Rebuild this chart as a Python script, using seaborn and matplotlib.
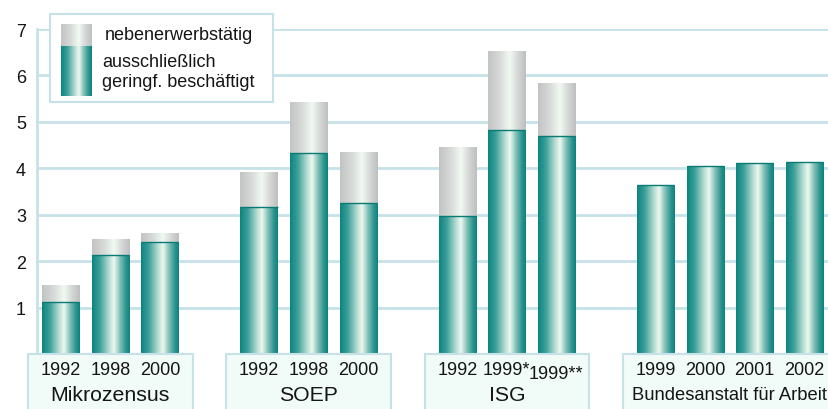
import numpy as np
import pandas as pd
import matplotlib
matplotlib.use("Agg")
import matplotlib.pyplot as plt
from matplotlib.colors import LinearSegmentedColormap
from matplotlib.patches import Rectangle
from matplotlib.transforms import blended_transform_factory
import seaborn as sns

# ---------------- data ----------------
groups = ["Mikrozensus", "SOEP", "ISG", "Bundesanstalt für Arbeit"]
years = [["1992", "1998", "2000"],
         ["1992", "1998", "2000"],
         ["1992", "1999*", "1999**"],
         ["1999", "2000", "2001", "2002"]]
ausschl = [[1.13, 2.13, 2.41],
           [3.17, 4.33, 3.25],
           [2.97, 4.83, 4.70],
           [3.65, 4.05, 4.11, 4.14]]
gesamt = [[1.48, 2.48, 2.61],
          [3.92, 5.43, 4.35],
          [4.46, 6.53, 5.84],
          [3.65, 4.05, 4.11, 4.14]]
legend_labels = ["nebenerwerbstätig", "ausschließlich\ngeringf. beschäftigt"]
yticks = [1, 2, 3, 4, 5, 6, 7]

# ---------------- build table ----------------
rows = []
order = []
for gi, g in enumerate(groups):
    for yi, y in enumerate(years[gi]):
        slot = f"{g}|{y}"
        order.append(slot)
        rows.append({"slot": slot, "main": ausschl[gi][yi], "total": gesamt[gi][yi]})
    if gi < len(groups) - 1:
        order.append(f"_gap{gi}")
df = pd.DataFrame(rows)

sns.set_style("white")
plt.rcParams["font.family"] = ["Liberation Sans", "DejaVu Sans"]

W, H = 829, 410
fig = plt.figure(figsize=(W / 100, H / 100), dpi=100)
ax_left, ax_right, ax_top, ax_bot = 37, 829, 30, 355
ax = fig.add_axes([ax_left / W, 1 - ax_bot / H, (ax_right - ax_left) / W, (ax_bot - ax_top) / H])

grid_col = "#c6e2e8"
txt_col = "#151515"
teal_cmap = LinearSegmentedColormap.from_list(
    "teal", [(0.0, "#0b8580"), (0.2, "#3b9e98"), (0.45, "#b5ddd3"), (0.58, "#eef8f0"),
             (0.75, "#7abdb4"), (0.9, "#2a948e"), (1.0, "#0c827d")])
grey_cmap = LinearSegmentedColormap.from_list(
    "grey", [(0.0, "#c2c4c3"), (0.3, "#d6d9d7"), (0.58, "#f1f9f2"), (0.8, "#d4d6d5"), (1.0, "#bdbfbe")])

sns.barplot(data=df, x="slot", y="total", order=order, color="#cccccc", width=0.75,
            ax=ax, saturation=1, zorder=3)
n_total = len(ax.patches)
sns.barplot(data=df, x="slot", y="main", order=order, color="#0b8580", width=0.75,
            ax=ax, saturation=1, zorder=4)
patches = list(ax.patches)

xlim = (-0.48, len(order) - 0.5)
ax.set_xlim(*xlim)
ax.set_ylim(0, 7)

grad = np.linspace(0, 1, 256).reshape(1, -1)
for i, p in enumerate(patches):
    x0, y0 = p.get_x(), p.get_y()
    w, h = p.get_width(), p.get_height()
    if h <= 0:
        continue
    cmap = grey_cmap if i < n_total else teal_cmap
    im = ax.imshow(grad, extent=[x0, x0 + w, y0, y0 + h], aspect="auto", cmap=cmap,
                   zorder=p.get_zorder(), interpolation="bilinear")
    im.set_clip_path(p)
    p.set_facecolor("none")
    p.set_edgecolor("none")
    if i >= n_total:
        ax.plot([x0, x0 + w], [y0 + h, y0 + h], color="#0a7a75", lw=1.0, zorder=5,
                solid_capstyle="butt")

ax.set_xlim(*xlim)
ax.set_ylim(0, 7)

# grid & axes
ax.set_yticks(yticks)
ax.set_yticklabels([str(t) for t in yticks], fontsize=13, color=txt_col)
ax.tick_params(axis="y", length=0, pad=8)
ax.yaxis.grid(True, color=grid_col, lw=2)
ax.set_axisbelow(True)
ax.set_xticks([])
ax.set_xlabel("")
ax.set_ylabel("")
for s in ["top", "right", "bottom"]:
    ax.spines[s].set_visible(False)
ax.spines["left"].set_color(grid_col)
ax.spines["left"].set_linewidth(2)

# category boxes below the axis
trans = blended_transform_factory(ax.transData, fig.transFigure)
idx = 0
box_top = 1 - ax_bot / H
for gi, g in enumerate(groups):
    n = len(years[gi])
    start, end = idx, idx + n - 1
    right = end + 0.66 if gi < len(groups) - 1 else end + 1.2
    rect = Rectangle((start - 0.66, -0.01), right - (start - 0.66), box_top + 0.01,
                     transform=trans, facecolor="#f1fbf7", edgecolor=grid_col, lw=1.5,
                     clip_on=False, zorder=1)
    fig.add_artist(rect)
    for k, y in enumerate(years[gi]):
        ylab = 1 - 371 / H if "**" not in y else 1 - 375 / H
        t = fig.text(0, ylab, y, transform=trans, fontsize=13, ha="center", va="center",
                     color=txt_col)
        t.set_x(start + k)
    gfs = 13.2 if len(g) > 15 else 15.3
    t = fig.text(0, 1 - 396 / H, g, transform=trans, fontsize=gfs, ha="center", va="center",
                 color=txt_col)
    t.set_x((start + end) / 2)
    idx += n + 1

# legend
lx0, ly0, lx1, ly1 = 50, 15, 273, 103
lax = fig.add_axes([lx0 / W, 1 - ly1 / H, (lx1 - lx0) / W, (ly1 - ly0) / H])
lax.set_xticks([])
lax.set_yticks([])
lax.set_facecolor("white")
for s in lax.spines.values():
    s.set_color(grid_col)
    s.set_linewidth(1.5)
sx0, sx1 = 61 - lx0, 92 - lx0
lax.imshow(grad, extent=[sx0, sx1, 47 - ly0, 25 - ly0], aspect="auto", cmap=grey_cmap,
           interpolation="bilinear")
lax.imshow(grad, extent=[sx0, sx1, 97 - ly0, 47 - ly0], aspect="auto", cmap=teal_cmap,
           interpolation="bilinear")
lax.set_xlim(0, lx1 - lx0)
lax.set_ylim(ly1 - ly0, 0)
lax.text(105 - lx0, 35 - ly0, legend_labels[0], fontsize=13, va="center", ha="left", color=txt_col)
lax.text(102 - lx0, 72.5 - ly0, legend_labels[1], fontsize=13, va="center", ha="left",
         color=txt_col, linespacing=1.3)

fig.savefig("out.png", dpi=100)
